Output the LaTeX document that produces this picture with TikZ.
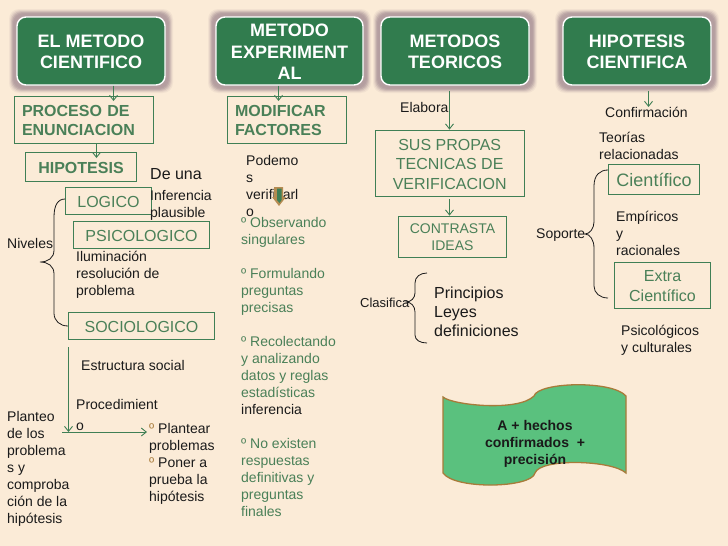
\documentclass[tikz,border=0pt]{standalone}
\usepackage{fontspec}
\setmainfont{Liberation Sans}
\usetikzlibrary{arrows.meta}
\definecolor{bgc}{HTML}{FBEBD7}
\definecolor{dkg}{HTML}{317C4E}
\definecolor{lng}{HTML}{3F7F55}
\definecolor{txg}{HTML}{4A8058}
\definecolor{glow}{HTML}{B49EA0}
\definecolor{flagf}{HTML}{5AC17E}
\definecolor{flagb}{HTML}{A87B3A}
\definecolor{ink}{HTML}{1A1A1A}
\newcommand{\fs}[2]{\fontsize{#1}{#2}\selectfont}
% name, x0, y0, x1, y1, text
\newcommand{\topbox}[6]{%
 \foreach \g/\o in {8/.12,7/.2,6/.35,5/.55,4/.75,3/.9}{%
  \fill[glow,opacity=\o,rounded corners=10pt] (#2-\g,#3-\g) rectangle (#4+\g,#5+\g);}
 \node[topstyle,minimum width=#4pt-#2pt,minimum height=#5pt-#3pt] (#1) at ({(#2+#4)/2},{(#3+#5)/2}) {};
 \node[toptext] (#1-t) at ({(#2+#4)/2},{(#3+#5)/2+1}) {#6};}
% name, centre x, centre y, width, height, text options, text
\newcommand{\gb}[7]{%
 \node[gbox,minimum width=#4pt,minimum height=#5pt] (#1) at (#2,#3) {};
 \node[gtext,#6] (#1-t) at (#2,#3+1) {#7};}
\tikzset{
 x=1pt,y=-1pt,
 topstyle/.style={draw=white,line width=1.4pt,fill=dkg,rounded corners=9pt,inner sep=0pt},
 toptext/.style={text=white,font=\bfseries\fs{18}{21.5},align=center,inner sep=0pt},
 gbox/.style={draw=lng,line width=.8pt,inner sep=0pt},
 gtext/.style={text=txg,align=center,inner sep=0pt},
 blk/.style={text=ink,align=left,anchor=north west,inner sep=0pt,font=\fs{14}{17},yshift=-3pt},
 grn/.style={blk,text=txg},
 arr/.style={draw=lng,line width=.9pt,-{Straight Barb[length=5pt,width=8pt]}},
 brace/.style={draw=ink,line width=.8pt},
}
\begin{document}
\begin{tikzpicture}
\useasboundingbox (0,0) rectangle (728,546);
\fill[bgc] (0,0) rectangle (728,546);
% top boxes
\topbox{t1}{17}{17}{165}{85}{EL METODO\\CIENTIFICO}
\topbox{t2}{216}{17}{363}{85}{METODO\\EXPERIMENT\\AL}
\topbox{t3}{381}{17}{529}{85}{METODOS\\TEORICOS}
\topbox{t4}{563}{17}{711}{85}{HIPOTESIS\\CIENTIFICA}
% green boxes
\gb{proc}{84}{119.7}{139}{46.5}{font=\bfseries\fs{16}{19},text width=124pt,align=left}{PROCESO DE\\ENUNCIACION}
\gb{hipo}{81}{166.5}{111}{29}{font=\bfseries\fs{16}{19}}{HIPOTESIS}
\gb{logi}{108.5}{200.7}{86}{26.5}{font=\fs{16}{19}}{LOGICO}
\gb{psic}{141.5}{234.7}{136}{26.5}{font=\fs{16}{19}}{PSICOLOGICO}
\gb{soci}{141.5}{325.7}{146}{27.5}{font=\fs{16}{19}}{SOCIOLOGICO}
\gb{modi}{287}{119.7}{119}{46.5}{font=\bfseries\fs{16}{19},text width=104pt,align=left}{MODIFICAR\\FACTORES}
\gb{sus}{449.7}{163}{148.5}{66}{font=\fs{16}{19.5}}{SUS PROPAS\\TECNICAS DE\\VERIFICACION}
\gb{cont}{452.5}{236.5}{108}{41}{font=\fs{14}{17}}{CONTRASTA\\IDEAS}
\gb{cien}{654}{179.2}{91}{29.5}{font=\fs{18}{21}}{Científico}
\gb{extra}{662.5}{285}{96}{46}{font=\fs{16}{19.5}}{Extra\\Científico}
% black labels
\node[blk,font=\fs{16}{19}] (deuna) at (150,165) {De una};
\node[blk] (inf) at (150,187) {Inferencia\\plausible};
\node[blk] (nive) at (7,235) {Niveles};
\node[blk] (ilum) at (76,248) {Iluminación\\resolución de\\problema};
\node[blk] (estr) at (81,357) {Estructura social};
\node[blk,text width=56pt] (proce) at (76,396) {Procedimient\\[4pt]o};
\node[blk] (plant) at (7,408) {Planteo\\de los\\problema\\s y\\comproba\\ción de la\\hipótesis};
\node[blk] (pode) at (246,152.5) {Podemo\\s\\verificarl\\o};
\node[blk] (elab) at (400,99) {Elabora};
\node[blk] (conf) at (605,104) {Confirmación};
\node[blk] (teor) at (599,129) {Teorías\\relacionadas};
\node[blk] (empi) at (616,208) {Empíricos\\y\\racionales};
\node[blk] (sopo) at (536,226) {Soporte};
\node[blk,font=\fs{13}{16}] (clas) at (360,295) {Clasifica};
\node[blk,font=\fs{16}{19}] (prin) at (434,284) {Principios\\Leyes\\definiciones};
\node[blk] (psi) at (621,322) {Psicológicos\\y culturales};
% green labels
\node[grn] (plan) at (149,420) {{\color{flagb}º} {\color{ink}Plantear}\\{\color{ink}problemas}\\{\color{flagb}º} {\color{ink}Poner a}\\{\color{ink}prueba la}\\{\color{ink}hipótesis}};
\node[grn] (obs) at (241,214) {º Observando\\singulares\\[17pt]º Formulando\\preguntas\\precisas\\[17pt]º Recolectando\\y analizando\\datos y reglas\\estadísticas\\{\color{ink}inferencia}\\[17pt]º No existen\\respuestas\\definitivas y\\preguntas\\finales};
% block arrow
\fill[flagb!85!bgc] (274,187) -- (283,187) -- (283,197) -- (286,197) -- (279,206) -- (272,197) -- (274,197) -- cycle;
\fill[lng] (277,188.5) -- (281.5,188.5) -- (281.5,200) -- (279.5,203) -- (277,200) -- cycle;
% arrows
\coordinate (a1) at (113.5,101);
\draw[arr] (t1.south -| a1) -- (a1);
\coordinate (a2) at (278.5,101);
\draw[arr] (t2.south -| a2) -- (a2);
\coordinate (a3) at (96.5,158);
\draw[arr] (proc.south -| a3) -- (a3);
\coordinate (a4s) at (449.5,91);
\draw[arr] (a4s) -- (a4s |- sus.north);
\coordinate (a5s) at (449.5,199);
\draw[arr] (a5s) -- (a5s |- cont.north);
\coordinate (a6s) at (648.5,91);
\coordinate (a6e) at (648.5,107);
\draw[arr] (a6s) -- (a6e);
\coordinate (a7s) at (68.5,347);
\coordinate (a7e) at (68.5,432);
\draw[arr] (a7s) -- (a7e);
\coordinate (a8s) at (62,432);
\coordinate (a8e) at (147,432);
\draw[arr] (a8s) -- (a8e);
% braces
\draw[brace] (logi.west |- 0,199) .. controls (58,199) and (54,205) .. (54,217) -- (54,250) .. controls (54,258) and (48,262) .. (40,262) .. controls (48,262) and (54,266) .. (54,274) -- (54,313) .. controls (54,321) and (60,326) .. (soci.west |- 0,326);
\draw[brace] (608,170) .. controls (600,170) and (594,175) .. (594,186) -- (594,222) .. controls (594,228) and (590,234) .. (585,234) .. controls (590,234) and (594,240) .. (594,248) -- (594,286) .. controls (594,293) and (600,298) .. (608,298);
\draw[brace] (427,273) .. controls (420,273) and (415,277) .. (415,283) -- (415,293) .. controls (415,298) and (411,302) .. (406,302) .. controls (411,302) and (415,306) .. (415,312) -- (415,335) .. controls (415,340) and (420,343) .. (427,343);
% flag
\draw[draw=flagb,line width=1.3pt,fill=flagf] (443,397) .. controls (452,405) and (518,412) .. (534,396) .. controls (538,382) and (612,380) .. (626,396) -- (626,473) .. controls (612,460) and (540,458) .. (535,473) .. controls (532,488) and (455,490) .. (443,473) -- cycle;
\node[font=\bfseries\fs{14}{17},text=ink,align=center,inner sep=0pt] (flagt) at (535,443.5) {A + hechos\\confirmados~ +\\precisión};
\end{tikzpicture}
\end{document}
